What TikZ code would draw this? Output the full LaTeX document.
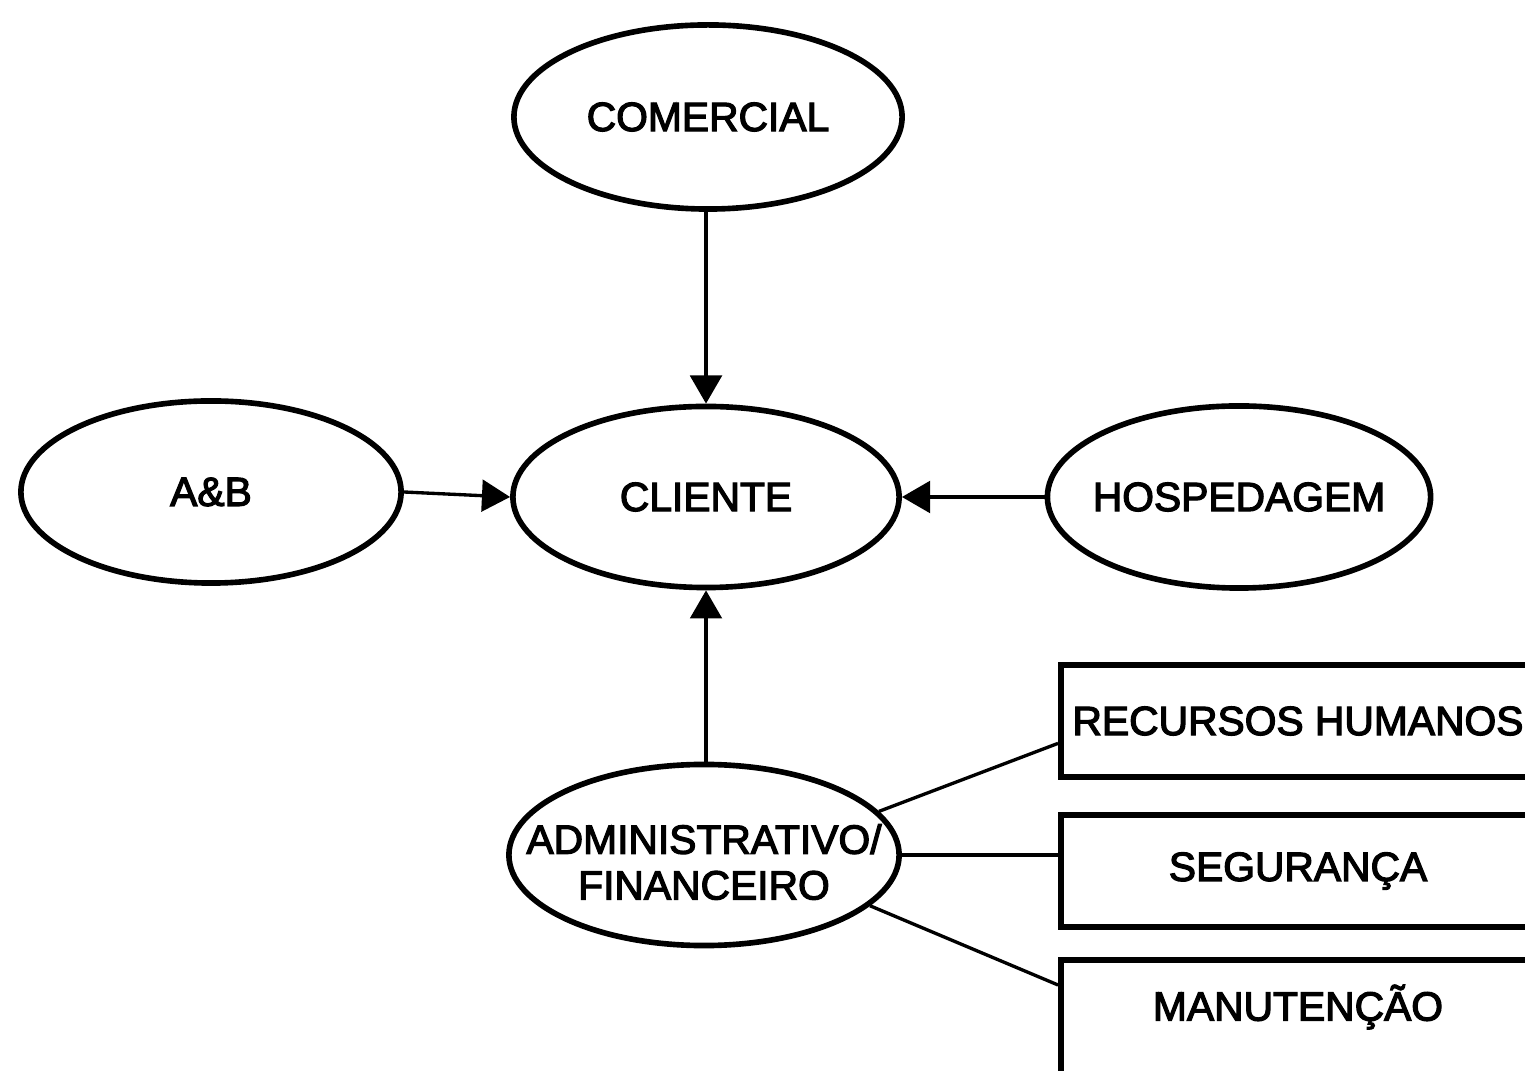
\documentclass[tikz,border=0pt]{standalone}
\usepackage{fontspec}
\setmainfont{Liberation Sans}
\newfontfamily\labfont[FakeBold=3]{Liberation Sans}
\usetikzlibrary{shapes.geometric,arrows.meta,calc}
\begin{document}
\begin{tikzpicture}[x=0.01cm,y=-0.01cm,
  lab/.style={inner sep=0pt,align=center,
    font=\labfont\fontsize{11.6}{13}\selectfont},
  dept/.style={ellipse,draw,line width=1.6pt,inner sep=0pt},
  unit/.style={rectangle,draw,line width=1.6pt,inner sep=0pt,
    minimum width=4.74cm},
  flow/.style={line width=0.95pt,-{Triangle[length=8pt,width=9pt]}},
  link/.style={line width=0.95pt}]
\useasboundingbox (0,0) rectangle (1525,1071);
\clip (0,0) rectangle (1525,1071);
\fill[white] (0,0) rectangle (1525,1071);

% departments
\node[dept,minimum width=3.88cm,minimum height=1.84cm,
  label={[lab]center:COMERCIAL}] (com) at (708,117) {};
\node[dept,minimum width=3.86cm,minimum height=1.81cm,
  label={[lab]center:CLIENTE}] (cli) at (706,497) {};
\node[dept,minimum width=3.80cm,minimum height=1.82cm,
  label={[lab]center:A\&B}] (ab) at (211,492) {};
\node[dept,minimum width=3.83cm,minimum height=1.82cm,
  label={[lab]center:HOSPEDAGEM}] (hos) at (1239,497) {};
\node[dept,minimum width=3.90cm,minimum height=1.81cm,
  label={[lab,yshift=-0.07cm]center:ADMINISTRATIVO/\\FINANCEIRO}] (adm) at (704,855) {};

% support units (running off the right edge)
\node[unit,minimum height=1.12cm,label={[lab]center:RECURSOS HUMANOS}] (rh) at (1298,721) {};
\node[unit,minimum height=1.12cm,label={[lab]center:SEGURANÇA}] (seg) at (1298,871) {};
\node[unit,minimum height=1.60cm] (man) at (1298,1040) {};
\node[lab] (mantext) at (1298,1007) {MANUTENÇÃO};

% flows into the client
\draw[flow] (cli.north |- com.south) -- (cli.north);
\draw[flow] (ab.east) -- (cli.west);
\draw[flow] (hos.west) -- (cli.east);
\draw[flow] (cli.south |- adm.north) -- (cli.south);

% links to the support units
\coordinate (rhin)  at ($(rh.south west)!0.31!(rh.north west)$);
\coordinate (manin) at (man.west |- 0,985);
\draw[link] (adm.14) -- (rhin);
\draw[link] (adm.east) -- (adm.east -| seg.west);
\draw[link] (adm.-17) -- (manin);
\end{tikzpicture}
\end{document}
